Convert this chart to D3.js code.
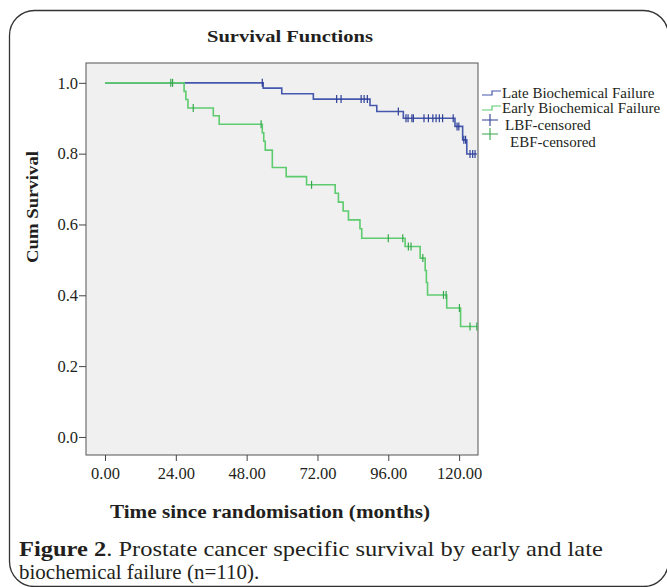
<!DOCTYPE html>
<html>
<head>
<meta charset="utf-8">
<script src="https://cdn.jsdelivr.net/npm/d3@7"></script>
<style>
    body { margin: 0; background: #fff; }
    svg text { font-family: "Liberation Serif", "DejaVu Serif", serif; fill: #231f20; }
</style>
</head>
<body>
<div id="chart"></div>
<script>
// Late biochemical failure: event times (months) and survival after each step
var lbfTimes = [53.6, 59.9, 70.6, 89.8, 92.1, 101.1, 118.6, 121.2, 122.6];
var lbfSurv  = [0.985, 0.969, 0.954, 0.936, 0.919, 0.900, 0.877, 0.839, 0.799];
var lbfEnd = 126;
var lbfCensored = [53.3, 78.5, 80, 86.8, 87.8, 88.9, 99.4, 102, 102.7, 104, 104.5,
                   108.1, 109.6, 111.1, 112.2, 113.3, 114.4, 118, 119.3, 119.9,
                   121.6, 122.2, 123.7, 124.6, 125.4];

// Early biochemical failure
var ebfTimes = [26.8, 27.4, 28.1, 36.7, 38.7, 53.3, 53.8, 54.3, 56.7, 61.4, 68.3,
                78.0, 79.1, 80.7, 82.5, 86.4, 87.0, 101.7, 106.8, 108.5, 108.9,
                109.3, 115.8, 120.5];
var ebfSurv  = [0.976, 0.953, 0.929, 0.907, 0.883, 0.859, 0.835, 0.810, 0.761, 0.735, 0.712,
                0.688, 0.663, 0.638, 0.613, 0.588, 0.561, 0.538, 0.505, 0.470, 0.436,
                0.401, 0.364, 0.312];
var ebfEnd = 126;
var ebfCensored = [22.3, 22.9, 29.9, 52.9, 70.0, 96.0, 100.9, 102.8, 103.7, 107.7,
                   114.7, 115.6, 120.1, 123.7, 126];

var xTicks = [0, 24, 48, 72, 96, 120];
var yTicks = [0, 0.2, 0.4, 0.6, 0.8, 1.0];
var legendLabels = ["Late Biochemical Failure", "Early Biochemical Failure", "LBF-censored", "EBF-censored"];

document.addEventListener("DOMContentLoaded", function() {
    var w = 667, h = 587;
    var box = { left: 86, right: 478, top: 63, bottom: 455 };

    var blue = "#4658ad", blueDark = "#2e3f96";
    var green = "#5dcb6e", greenDark = "#35a84c";

    var svg = d3.select("#chart")
        .append("svg")
        .attr("width", w)
        .attr("height", h);

    // rounded frame around the figure
    svg.append("rect")
        .attr("x", 9.5).attr("y", 10.5)
        .attr("width", 659).attr("height", 576)
        .attr("rx", 25).attr("ry", 25)
        .attr("fill", "none")
        .attr("stroke", "#333")
        .attr("stroke-width", 1.3);

    var xScale = d3.scaleLinear()
        .domain([-6.44, 126.4])
        .range([box.left, box.right]);

    var yScale = d3.scaleLinear()
        .domain([-0.051, 1.056])
        .range([box.bottom, box.top]);

    // plot area background
    svg.append("rect")
        .attr("x", box.left).attr("y", box.top)
        .attr("width", box.right - box.left)
        .attr("height", box.bottom - box.top)
        .attr("fill", "#f0f0f0")
        .attr("stroke", "#555")
        .attr("stroke-width", 1);

    // axes
    var yAxis = svg.append("g")
        .attr("transform", `translate(${box.left}, 0)`)
        .call(d3.axisLeft(yScale).tickValues(yTicks).tickFormat(d3.format(".1f")).tickSize(7).tickPadding(1));
    var xAxis = svg.append("g")
        .attr("transform", `translate(0, ${box.bottom})`)
        .call(d3.axisBottom(xScale).tickValues(xTicks).tickFormat(d3.format(".2f")).tickSize(6).tickPadding(6));
    [xAxis, yAxis].forEach(function(g) {
        g.select(".domain").remove();
        g.selectAll(".tick line").attr("stroke", "#444");
        g.selectAll(".tick text")
            .style("font-family", "'Liberation Serif', serif")
            .style("font-size", "16.5px")
            .attr("fill", "#231f20");
    });

    // build step curves from the event arrays
    function steps(times, surv, end) {
        var pts = [{ t: 0, s: 1 }];
        times.forEach(function(t, i) { pts.push({ t: t, s: surv[i] }); });
        pts.push({ t: end, s: surv[surv.length - 1] });
        return pts;
    }
    function survAt(times, surv, t) {
        var i = d3.bisectRight(times, t);
        return i === 0 ? 1 : surv[i - 1];
    }

    var line = d3.line()
        .x(d => xScale(d.t))
        .y(d => yScale(d.s))
        .curve(d3.curveStepAfter);

    var groups = [
        { times: lbfTimes, surv: lbfSurv, end: lbfEnd, cens: lbfCensored, color: blue, mark: blueDark },
        { times: ebfTimes, surv: ebfSurv, end: ebfEnd, cens: ebfCensored, color: green, mark: greenDark }
    ];

    // draw the blue first so the green lies over it along 1.0
    groups.forEach(function(g) {
        svg.append("path")
            .datum(steps(g.times, g.surv, g.end))
            .attr("fill", "none")
            .attr("stroke", g.color)
            .attr("stroke-width", 1.6)
            .attr("d", line);
    });
    groups.forEach(function(g) {
        svg.append("g")
            .selectAll("line")
            .data(g.cens)
            .enter().append("line")
            .attr("x1", d => xScale(d)).attr("x2", d => xScale(d))
            .attr("y1", d => yScale(survAt(g.times, g.surv, d)) - 4)
            .attr("y2", d => yScale(survAt(g.times, g.surv, d)) + 4)
            .attr("stroke", g.mark)
            .attr("stroke-width", 1.2);
    });

    // title and axis labels (glyphs stretched a bit to match the wider original face)
    svg.append("text")
        .attr("x", 290).attr("y", 42)
        .attr("text-anchor", "middle")
        .attr("textLength", 166).attr("lengthAdjust", "spacingAndGlyphs")
        .style("font-size", "17px").style("font-weight", "bold")
        .text("Survival Functions");

    svg.append("text")
        .attr("transform", "translate(38, 207) rotate(-90)")
        .attr("text-anchor", "middle")
        .attr("textLength", 112).attr("lengthAdjust", "spacingAndGlyphs")
        .style("font-size", "17px").style("font-weight", "bold")
        .text("Cum Survival");

    svg.append("text")
        .attr("x", 110).attr("y", 518)
        .attr("textLength", 320).attr("lengthAdjust", "spacingAndGlyphs")
        .style("font-size", "18px").style("font-weight", "bold")
        .text("Time since randomisation (months)");

    // legend
    var lg = svg.append("g");
    [blue, green].forEach(function(c, i) {
        var y0 = 95 + i * 15;
        lg.append("path")
            .attr("d", `M482,${y0} H492 V${y0 - 4} H501`)
            .attr("fill", "none").attr("stroke", c).attr("stroke-width", 1.2);
        lg.append("text")
            .attr("x", 502).attr("y", 98 + i * 15)
            .style("font-size", "15px")
            .text(legendLabels[i]);
    });
    [blueDark, greenDark].forEach(function(c, i) {
        var cy = 120 + i * 14;
        lg.append("path")
            .attr("d", `M482,${cy} H498 M490,${cy - 6} V${cy + 6}`)
            .attr("fill", "none").attr("stroke", c).attr("stroke-width", 1.1);
        lg.append("text")
            .attr("x", i === 0 ? 505 : 510).attr("y", 130 + i * 17)
            .style("font-size", "15px")
            .text(legendLabels[2 + i]);
    });

    // caption: first line is justified to the frame width, so widen it horizontally
    var cap = svg.append("text")
        .style("font-size", "21px");
    cap.append("tspan").style("font-weight", "bold").text("Figure 2");
    cap.append("tspan").text(". Prostate cancer specific survival by early and late");
    var natural = cap.node().getComputedTextLength();
    cap.attr("transform", `translate(19, 556) scale(${584 / natural}, 1)`);
    svg.append("text")
        .attr("x", 19).attr("y", 579)
        .style("font-size", "21px")
        .text("biochemical failure (n=110).");
});
</script>
</body>
</html>
